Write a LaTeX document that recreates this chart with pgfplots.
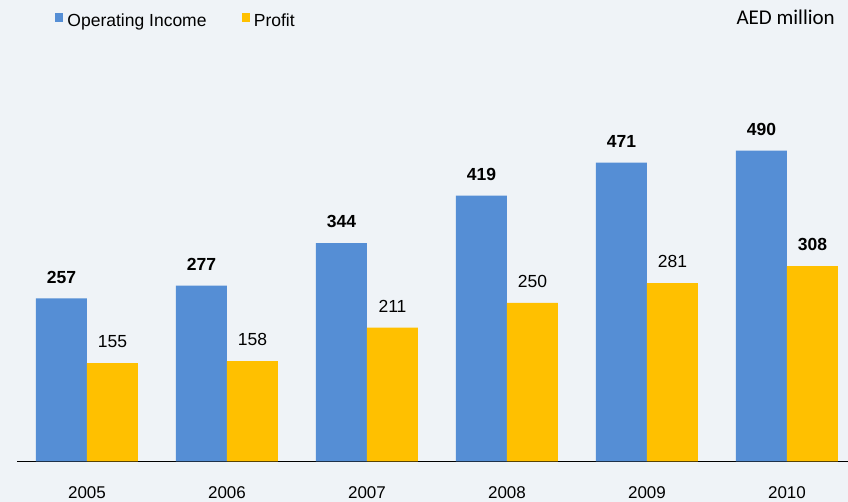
\documentclass[border=0pt]{standalone}
\usepackage{pgfplots}
\pgfplotsset{compat=1.18}
\usepackage{fontspec}
\setmainfont{Liberation Sans}
\newfontfamily\carlito{Carlito}
\definecolor{bg}{RGB}{239,243,247}
\definecolor{oiblue}{RGB}{85,142,213}
\definecolor{pyellow}{RGB}{255,192,0}
\begin{document}
\begin{tikzpicture}[x=1pt,y=1pt]
\fill[bg] (0,0) rectangle (848,502);
\begin{axis}[
  at={(17pt,40.5pt)}, anchor=south west,
  scale only axis, width=831pt, height=461.5pt,
  xmin=-0.5, xmax=5.436, ymin=0, ymax=727.3,
  ybar=0pt, bar width=51pt,
  axis x line*=bottom, axis y line=none,
  x axis line style={black, line width=1.6pt},
  xtick={0,1,2,3,4,5},
  xticklabels={2005,2006,2007,2008,2009,2010},
  xtick style={draw=none}, ytick=\empty,
  xticklabel style={font=\fontsize{17}{20}\selectfont, inner sep=0pt, anchor=north, yshift=-21pt},
  nodes near coords, point meta=explicit symbolic,
  every node near coord/.append style={font=\fontsize{17.5}{21}\selectfont, inner sep=0pt, anchor=south, yshift=15pt, black},
  clip=false,
  legend columns=2,
  legend image code/.code={\fill[#1] (0pt,-1.3pt) rectangle (8.3pt,7pt);},
  legend style={at={(0.0457,0.9714)}, anchor=north west, draw=none, fill=none,
    inner sep=0pt, font=\fontsize{17.5}{21}\selectfont,
    nodes={inner sep=0pt},
    /tikz/every odd column/.append style={column sep=4pt},
    /tikz/every even column/.append style={column sep=35pt}},
]
\addplot[fill=oiblue, draw=none] coordinates {
  (0,257) [\textbf{257}] (1,277) [\textbf{277}] (2,344) [\textbf{344}]
  (3,419) [\textbf{419}] (4,471) [\textbf{471}] (5,490) [\textbf{490}]};
\addplot[fill=pyellow, draw=none] coordinates {
  (0,155) [155] (1,158) [158] (2,211) [211]
  (3,250) [250] (4,281) [281] (5,308) [\textbf{308}]};
\legend{Operating Income, Profit}
\end{axis}
\node[anchor=base east, inner sep=0pt, font=\carlito\fontsize{21}{25}\selectfont] at (835,477) {AED million};
\pgfresetboundingbox
\useasboundingbox (0,0) rectangle (848,502);
\end{tikzpicture}
\end{document}
